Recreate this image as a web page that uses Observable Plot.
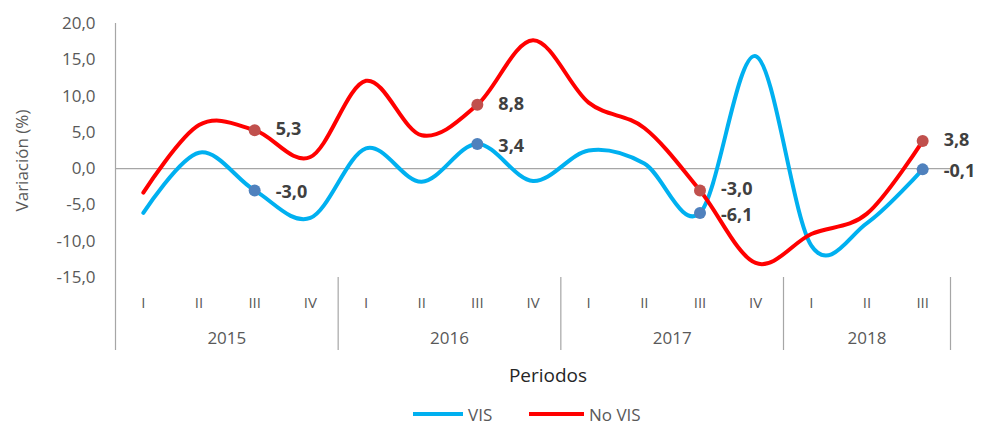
<!DOCTYPE html>
<html>
<head>
<meta charset="utf-8">
<script src="https://cdn.jsdelivr.net/npm/d3@7"></script>
<script src="https://cdn.jsdelivr.net/npm/@observablehq/plot@0.6"></script>
<style>
  html, body { margin: 0; padding: 0; background: #fff; }
  body { width: 984px; height: 424px; overflow: hidden; font-family: "Open Sans", sans-serif; }
  #legend { position: relative; height: 24px; margin-top: 6px; font-size: 17px; color: #595959; }
  .item { position: absolute; top: 0; display: flex; align-items: center; gap: 5px; height: 24px; }
  .sw { display: inline-block; width: 50px; height: 4px; }
</style>
</head>
<body>
<div id="chart"></div>
<div id="legend"></div>
<script>
const quarters = ["I","II","III","IV","I","II","III","IV","I","II","III","IV","I","II","III"];
const years = [2015,2015,2015,2015,2016,2016,2016,2016,2017,2017,2017,2017,2018,2018,2018];
const vis   = [-6.1, 2.2, -3.0, -6.8, 2.8, -1.8, 3.4, -1.7, 2.5, 0.7, -6.1, 15.5, -10.6, -7.5, -0.1];
const noVis = [-3.3, 6.0, 5.3, 1.6, 12.1, 4.6, 8.8, 17.7, 9.1, 5.6, -3.0, -13.0, -9.0, -6.2, 3.8];
const labeledIdx = [2, 6, 10, 14];
const yTicks = [-15, -10, -5, 0, 5, 10, 15, 20];
const seriesNames = ["VIS", "No VIS"];
const lineColors = ["#00B0F0", "#FF0000"];
const dotColors = ["#4F81BD", "#C0504D"];

const fmt = v => v.toFixed(1).replace(".", ",");
const idx = d3.range(quarters.length);
const visData = idx.map(i => ({i, v: vis[i]}));
const noVisData = idx.map(i => ({i, v: noVis[i]}));

// year groups
const yearList = Array.from(new Set(years));
const groups = yearList.map(y => {
  const ids = idx.filter(i => years[i] === y);
  return {year: y, center: (ids[0] + ids[ids.length - 1]) / 2, end: ids[ids.length - 1] + 0.5};
});

const W = 984, H = 396;
const mt = 23, mb = 119, ml = 115, mr = 34;
const frameH = H - mt - mb;

const textColor = "#595959";
const chart = Plot.plot({
  width: W,
  height: H,
  marginTop: mt,
  marginBottom: mb,
  marginLeft: ml,
  marginRight: mr,
  style: {fontFamily: "Open Sans, sans-serif", overflow: "visible"},
  x: {domain: [-0.5, quarters.length - 0.5], axis: null},
  y: {domain: [-15, 20], axis: null},
  marks: [
    Plot.ruleY([0], {stroke: "#A6A6A6", strokeWidth: 1.2}),
    // left axis line extended into category area
    Plot.ruleX([-0.5], {stroke: "#A6A6A6", strokeWidth: 1.2, insetBottom: -73}),
    // group separators
    Plot.ruleX(groups, {x: "end", stroke: "#A6A6A6", strokeWidth: 1.2, insetTop: frameH, insetBottom: -73}),
    // y tick labels
    Plot.text(yTicks, {x: -0.5, y: d => d, text: d => fmt(d), textAnchor: "end", dx: -20, fontSize: 17, fill: textColor}),
    // y axis title
    Plot.text(["Variación (%)"], {frameAnchor: "left", textAnchor: "middle", rotate: -90, dx: -93, dy: 10, fontSize: 17, fill: textColor}),
    // quarter labels
    Plot.text(idx, {x: i => i, y: -15, text: i => quarters[i], dy: 26, fontSize: 15, fill: textColor}),
    // year labels
    Plot.text(groups, {x: "center", y: -15, text: d => String(d.year), dy: 61, fontSize: 17, fill: textColor}),
    // x title
    Plot.text(["Periodos"], {frameAnchor: "bottom", dx: 15, dy: 104, fontSize: 19, fill: "#262626"}),
    // lines
    Plot.line(visData, {x: "i", y: "v", stroke: lineColors[0], strokeWidth: 4, curve: "cardinal"}),
    Plot.line(noVisData, {x: "i", y: "v", stroke: lineColors[1], strokeWidth: 4, curve: "cardinal"}),
    // dots
    Plot.dot(labeledIdx, {x: i => i, y: i => noVis[i], r: 6, fill: dotColors[1]}),
    Plot.dot(labeledIdx, {x: i => i, y: i => vis[i], r: 6, fill: dotColors[0]}),
    // labels
    Plot.text(labeledIdx, {x: i => i, y: i => noVis[i], text: i => fmt(noVis[i]), textAnchor: "start", dx: 21, dy: -1, fontSize: 18, fontWeight: "bold", fill: "#404040"}),
    Plot.text(labeledIdx, {x: i => i, y: i => vis[i], text: i => fmt(vis[i]), textAnchor: "start", dx: 21, dy: 2, fontSize: 18, fontWeight: "bold", fill: "#404040"})
  ]
});
document.getElementById("chart").appendChild(chart);

const legend = document.getElementById("legend");
const legendLeft = [413, 529];
seriesNames.forEach((name, k) => {
  const it = document.createElement("span");
  it.className = "item";
  it.style.left = legendLeft[k] + "px";
  const sw = document.createElement("span");
  sw.className = "sw";
  sw.style.width = (k === 0 ? 50 : 55) + "px";
  sw.style.background = lineColors[k];
  it.appendChild(sw);
  const t = document.createElement("span");
  t.textContent = name;
  it.appendChild(t);
  legend.appendChild(it);
});
</script>
</body>
</html>
